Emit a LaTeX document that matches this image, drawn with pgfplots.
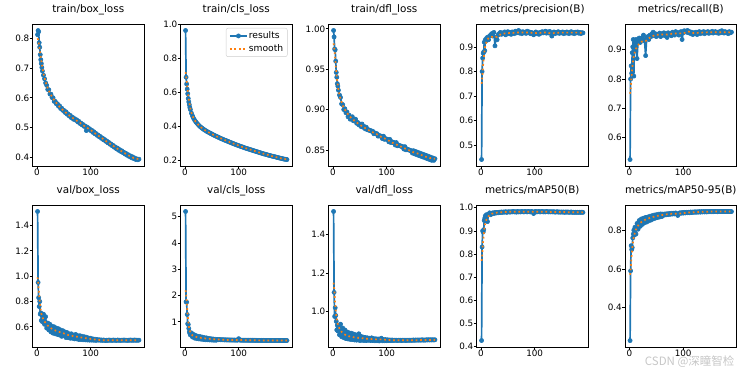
\documentclass[border=0pt]{standalone}
\usepackage{fontspec}
\setmainfont{DejaVu Sans}
\newfontfamily\cjk{Noto Sans CJK SC}
\usepackage{pgfplots}
\usepackage{pgfplotstable}
\pgfplotsset{compat=1.18}
\definecolor{tabblue}{HTML}{1F77B4}
\definecolor{taborange}{HTML}{FF7F0E}

\pgfplotstableread{
ep bl cl dl p r vb vc vd m50 m95
1 0.812 0.965 0.998 0.440 0.525 1.510 5.200 1.520 0.425 0.230
2 0.826 0.690 0.990 0.800 0.800 0.950 1.760 1.100 0.830 0.590
3 0.822 0.650 0.975 0.855 0.845 0.830 1.750 0.975 0.900 0.720
4 0.785 0.620 0.974 0.875 0.820 0.760 1.280 1.020 0.895 0.700
5 0.770 0.593 0.960 0.880 0.890 0.800 0.930 0.980 0.905 0.710
6 0.745 0.565 0.946 0.920 0.910 0.700 0.900 0.950 0.945 0.760
7 0.728 0.545 0.940 0.885 0.935 0.710 0.750 0.905 0.955 0.780
8 0.715 0.528 0.932 0.930 0.810 0.650 0.620 0.930 0.965 0.800
9 0.702 0.512 0.929 0.925 0.895 0.700 0.560 0.900 0.945 0.775
10 0.690 0.500 0.924 0.935 0.930 0.640 0.500 0.925 0.970 0.815
12 0.676 0.478 0.918 0.940 0.935 0.700 0.580 0.880 0.940 0.780
14 0.664 0.462 0.915 0.930 0.870 0.620 0.420 0.935 0.972 0.835
16 0.650 0.448 0.907 0.945 0.935 0.680 0.520 0.870 0.978 0.805
18 0.642 0.437 0.906 0.950 0.940 0.590 0.380 0.915 0.970 0.850
20 0.628 0.428 0.900 0.955 0.925 0.630 0.480 0.865 0.976 0.820
22 0.627 0.420 0.901 0.945 0.940 0.575 0.360 0.905 0.978 0.858
24 0.613 0.413 0.896 0.960 0.935 0.620 0.450 0.860 0.975 0.830
26 0.612 0.406 0.897 0.905 0.950 0.560 0.350 0.895 0.980 0.862
28 0.601 0.400 0.891 0.940 0.930 0.605 0.440 0.858 0.977 0.838
30 0.600 0.395 0.893 0.930 0.880 0.550 0.340 0.890 0.980 0.866
32 0.588 0.390 0.888 0.950 0.940 0.600 0.420 0.856 0.978 0.842
34 0.588 0.385 0.890 0.955 0.945 0.545 0.330 0.888 0.981 0.868
36 0.580 0.381 0.891 0.960 0.935 0.590 0.400 0.855 0.979 0.848
38 0.580 0.377 0.886 0.952 0.950 0.540 0.320 0.884 0.982 0.872
40 0.572 0.373 0.887 0.958 0.945 0.585 0.390 0.853 0.980 0.852
42 0.573 0.369 0.888 0.955 0.955 0.535 0.315 0.880 0.982 0.875
44 0.564 0.366 0.883 0.962 0.960 0.575 0.370 0.852 0.981 0.858
46 0.565 0.362 0.884 0.950 0.948 0.525 0.310 0.878 0.983 0.878
48 0.558 0.359 0.881 0.958 0.955 0.570 0.360 0.885 0.980 0.862
50 0.558 0.356 0.882 0.963 0.945 0.530 0.305 0.850 0.982 0.880
52 0.551 0.352 0.879 0.955 0.952 0.560 0.350 0.872 0.983 0.865
54 0.553 0.349 0.882 0.960 0.950 0.515 0.300 0.851 0.981 0.882
56 0.545 0.346 0.878 0.952 0.957 0.555 0.340 0.868 0.983 0.868
58 0.546 0.343 0.879 0.962 0.945 0.515 0.300 0.850 0.982 0.884
60 0.539 0.340 0.876 0.958 0.955 0.545 0.330 0.866 0.984 0.870
62 0.541 0.337 0.878 0.955 0.950 0.510 0.320 0.850 0.982 0.883
64 0.533 0.334 0.875 0.965 0.958 0.545 0.325 0.864 0.983 0.877
66 0.535 0.331 0.875 0.958 0.948 0.510 0.318 0.851 0.981 0.884
68 0.528 0.328 0.874 0.960 0.955 0.535 0.322 0.862 0.984 0.879
70 0.530 0.326 0.874 0.968 0.942 0.505 0.315 0.850 0.982 0.885
72 0.525 0.323 0.873 0.957 0.958 0.540 0.320 0.864 0.983 0.880
74 0.526 0.320 0.873 0.962 0.952 0.505 0.312 0.850 0.982 0.886
76 0.519 0.318 0.870 0.955 0.955 0.530 0.316 0.860 0.984 0.882
78 0.521 0.315 0.871 0.963 0.948 0.500 0.310 0.849 0.983 0.887
80 0.514 0.313 0.870 0.958 0.960 0.530 0.314 0.859 0.982 0.883
82 0.515 0.310 0.870 0.960 0.955 0.500 0.308 0.849 0.984 0.888
84 0.509 0.307 0.867 0.956 0.950 0.525 0.312 0.858 0.983 0.884
86 0.510 0.305 0.868 0.965 0.962 0.498 0.306 0.848 0.982 0.889
88 0.504 0.302 0.867 0.959 0.955 0.522 0.310 0.857 0.984 0.885
90 0.505 0.300 0.867 0.962 0.958 0.497 0.305 0.862 0.983 0.876
92 0.490 0.297 0.864 0.955 0.950 0.518 0.308 0.849 0.982 0.886
94 0.501 0.295 0.867 0.960 0.960 0.496 0.304 0.856 0.984 0.890
96 0.495 0.292 0.863 0.957 0.962 0.512 0.306 0.849 0.983 0.887
98 0.496 0.290 0.864 0.950 0.935 0.495 0.303 0.855 0.975 0.891
100 0.490 0.288 0.863 0.958 0.958 0.510 0.360 0.849 0.983 0.888
102 0.491 0.285 0.863 0.962 0.965 0.495 0.305 0.854 0.984 0.892
104 0.484 0.283 0.860 0.955 0.962 0.505 0.302 0.850 0.982 0.889
106 0.486 0.281 0.863 0.958 0.960 0.494 0.304 0.853 0.983 0.892
108 0.479 0.279 0.859 0.952 0.966 0.503 0.300 0.850 0.984 0.890
110 0.480 0.276 0.860 0.960 0.958 0.493 0.303 0.853 0.982 0.893
112 0.474 0.274 0.859 0.957 0.962 0.500 0.300 0.850 0.983 0.890
114 0.475 0.272 0.859 0.963 0.955 0.495 0.302 0.852 0.984 0.894
116 0.469 0.270 0.856 0.958 0.960 0.498 0.299 0.851 0.982 0.891
118 0.470 0.268 0.859 0.961 0.952 0.494 0.301 0.852 0.983 0.894
120 0.464 0.266 0.855 0.965 0.958 0.497 0.298 0.850 0.982 0.892
122 0.465 0.264 0.856 0.957 0.955 0.493 0.300 0.852 0.984 0.895
124 0.459 0.262 0.855 0.962 0.960 0.496 0.297 0.851 0.983 0.892
126 0.460 0.260 0.855 0.958 0.952 0.494 0.299 0.852 0.982 0.895
128 0.454 0.258 0.854 0.964 0.958 0.492 0.296 0.850 0.983 0.893
130 0.455 0.256 0.854 0.956 0.962 0.495 0.298 0.852 0.982 0.896
132 0.449 0.254 0.851 0.945 0.955 0.493 0.295 0.851 0.983 0.893
134 0.450 0.252 0.854 0.958 0.960 0.496 0.297 0.852 0.982 0.896
136 0.444 0.250 0.850 0.962 0.957 0.494 0.294 0.850 0.983 0.894
138 0.445 0.248 0.851 0.955 0.962 0.495 0.296 0.852 0.981 0.896
140 0.439 0.246 0.850 0.960 0.955 0.493 0.294 0.851 0.982 0.894
142 0.440 0.244 0.850 0.958 0.960 0.496 0.295 0.852 0.983 0.897
144 0.434 0.242 0.849 0.963 0.958 0.494 0.293 0.851 0.981 0.894
146 0.435 0.240 0.849 0.956 0.962 0.495 0.295 0.852 0.982 0.896
148 0.429 0.238 0.846 0.960 0.956 0.493 0.292 0.851 0.981 0.895
150 0.431 0.237 0.849 0.958 0.960 0.496 0.294 0.853 0.982 0.897
152 0.424 0.235 0.845 0.962 0.958 0.494 0.292 0.851 0.981 0.895
154 0.426 0.233 0.848 0.955 0.963 0.495 0.293 0.853 0.982 0.897
156 0.420 0.231 0.844 0.960 0.957 0.493 0.291 0.852 0.980 0.895
158 0.422 0.230 0.847 0.957 0.960 0.495 0.293 0.853 0.982 0.897
160 0.416 0.228 0.843 0.962 0.962 0.494 0.291 0.852 0.981 0.896
162 0.417 0.226 0.846 0.958 0.958 0.496 0.292 0.853 0.982 0.897
164 0.411 0.225 0.842 0.955 0.960 0.494 0.290 0.852 0.980 0.895
166 0.413 0.223 0.845 0.960 0.956 0.495 0.292 0.854 0.981 0.897
168 0.407 0.222 0.841 0.963 0.962 0.493 0.290 0.852 0.982 0.896
170 0.409 0.220 0.844 0.957 0.958 0.495 0.291 0.853 0.980 0.897
172 0.403 0.218 0.840 0.960 0.965 0.494 0.290 0.852 0.981 0.896
174 0.405 0.217 0.843 0.955 0.960 0.496 0.291 0.854 0.980 0.897
176 0.399 0.215 0.839 0.961 0.957 0.494 0.289 0.853 0.981 0.896
178 0.402 0.214 0.842 0.958 0.962 0.495 0.291 0.854 0.980 0.897
180 0.396 0.212 0.838 0.962 0.958 0.494 0.289 0.853 0.981 0.896
182 0.398 0.211 0.841 0.957 0.960 0.496 0.290 0.854 0.980 0.897
184 0.393 0.209 0.837 0.960 0.955 0.494 0.289 0.853 0.981 0.896
186 0.395 0.208 0.840 0.955 0.962 0.495 0.290 0.854 0.980 0.897
188 0.392 0.207 0.837 0.959 0.958 0.494 0.289 0.853 0.981 0.896
190 0.394 0.206 0.839 0.958 0.960 0.495 0.290 0.854 0.980 0.896
}\restab

\pgfplotstableread{
ep bl cl dl p r vb vc vd m50 m95
1 0.800 0.720 0.982 0.750 0.750 0.990 2.20 1.150 0.770 0.570
2 0.795 0.700 0.978 0.770 0.765 0.955 2.05 1.125 0.790 0.595
3 0.786 0.672 0.971 0.800 0.790 0.905 1.80 1.085 0.822 0.635
4 0.775 0.642 0.963 0.830 0.815 0.850 1.52 1.045 0.855 0.672
5 0.762 0.612 0.955 0.855 0.838 0.800 1.25 1.010 0.882 0.705
6 0.749 0.585 0.947 0.875 0.855 0.762 1.02 0.982 0.905 0.730
7 0.736 0.561 0.940 0.893 0.868 0.730 0.85 0.960 0.922 0.750
8 0.724 0.541 0.934 0.905 0.878 0.706 0.73 0.945 0.934 0.765
10 0.702 0.507 0.925 0.920 0.893 0.675 0.60 0.925 0.948 0.788
12 0.682 0.481 0.918 0.930 0.903 0.657 0.53 0.912 0.956 0.803
14 0.666 0.463 0.913 0.937 0.910 0.642 0.48 0.902 0.963 0.815
17 0.648 0.442 0.907 0.941 0.918 0.625 0.45 0.892 0.970 0.828
20 0.632 0.428 0.902 0.942 0.925 0.610 0.43 0.885 0.974 0.838
25 0.613 0.410 0.897 0.940 0.930 0.592 0.41 0.876 0.977 0.847
30 0.597 0.395 0.892 0.942 0.930 0.578 0.39 0.872 0.979 0.855
35 0.585 0.383 0.889 0.950 0.937 0.570 0.375 0.870 0.980 0.860
40 0.574 0.373 0.886 0.955 0.945 0.562 0.365 0.866 0.981 0.865
50 0.556 0.356 0.881 0.957 0.951 0.548 0.343 0.864 0.982 0.873
60 0.541 0.340 0.877 0.958 0.952 0.533 0.328 0.860 0.983 0.878
70 0.528 0.326 0.873 0.960 0.952 0.525 0.318 0.858 0.983 0.882
80 0.516 0.313 0.870 0.960 0.955 0.518 0.312 0.856 0.983 0.885
90 0.503 0.300 0.866 0.959 0.956 0.511 0.307 0.856 0.983 0.885
100 0.492 0.288 0.863 0.957 0.956 0.505 0.310 0.854 0.982 0.888
110 0.478 0.276 0.859 0.958 0.962 0.499 0.302 0.852 0.983 0.891
120 0.466 0.266 0.856 0.960 0.957 0.495 0.299 0.851 0.983 0.893
130 0.453 0.256 0.853 0.956 0.958 0.494 0.297 0.851 0.982 0.894
140 0.441 0.246 0.850 0.958 0.959 0.494 0.295 0.851 0.982 0.895
150 0.429 0.237 0.847 0.959 0.960 0.494 0.293 0.852 0.982 0.896
160 0.418 0.228 0.845 0.959 0.960 0.494 0.292 0.852 0.981 0.896
170 0.407 0.220 0.842 0.959 0.960 0.494 0.291 0.853 0.981 0.896
180 0.398 0.212 0.840 0.959 0.960 0.494 0.290 0.853 0.981 0.896
190 0.394 0.207 0.839 0.958 0.959 0.494 0.290 0.853 0.980 0.896
}\smotab

\pgfplotsset{
  yolo/.style={
    scale only axis, width=111.5pt, height=142pt,
    xmin=-8.45, xmax=199.45, xtick={0,100},
    scaled ticks=false, clip marker paths=true,
    tick align=outside, tick pos=left, major tick length=3pt,
    every tick/.style={black, line width=0.7pt},
    axis line style={line width=0.7pt},
    tick label style={font=\fontsize{8.8}{10}\selectfont, inner sep=0pt},
    /pgf/number format/assume math mode=true,
    yticklabel style={/pgf/number format/.cd, fixed, fixed zerofill, precision=1},
    xticklabel style={/pgf/number format/.cd, fixed, precision=0},
    title style={font=\fontsize{10.4}{12}\selectfont, at={(0.5,1)}, anchor=base, yshift=5.5pt},
  },
  res/.style={tabblue, line width=1.7pt, line join=round, mark=*, mark size=2.1pt, mark options={line width=0.6pt, fill=tabblue, solid}},
  smo/.style={taborange, line width=1.7pt, dash pattern=on 1.7pt off 2.8pt, no marks},
}

\begin{document}
\begin{tikzpicture}
\useasboundingbox (0,0) rectangle (747pt,374pt);

% Row 1
\begin{axis}[yolo, at={(32.5pt,208pt)}, title={train/box\_loss},
  ymin=0.371, ymax=0.848, ytick={0.4,0.5,0.6,0.7,0.8}]
\addplot[res] table[x=ep,y=bl]{\restab};
\addplot[smo] table[x=ep,y=bl]{\smotab};
\end{axis}

\begin{axis}[yolo, at={(180.5pt,208pt)}, title={train/cls\_loss},
  ymin=0.168, ymax=1.003, ytick={0.2,0.4,0.6,0.8,1.0},
  legend style={at={(1,1)}, anchor=north east, xshift=-4.5pt, yshift=-4pt,
    draw=black!20, rounded corners=2pt, fill=white,
    font=\fontsize{9.2}{10}\selectfont, inner xsep=3pt, inner ysep=2.5pt, row sep=2.5pt,
    nodes={inner sep=1pt}},
  legend cell align=left]
\addplot[res] table[x=ep,y=cl]{\restab};
\addlegendentry{results}
\addplot[smo] table[x=ep,y=cl]{\smotab};
\addlegendentry{smooth}
\end{axis}

\begin{axis}[yolo, at={(328.5pt,208pt)}, title={train/dfl\_loss},
  ymin=0.830, ymax=1.006, ytick={0.85,0.90,0.95,1.00},
  yticklabel style={/pgf/number format/.cd, fixed, fixed zerofill, precision=2}]
\addplot[res] table[x=ep,y=dl]{\restab};
\addplot[smo] table[x=ep,y=dl]{\smotab};
\end{axis}

\begin{axis}[yolo, at={(476.5pt,208pt)}, title={metrics/precision(B)},
  ymin=0.4136, ymax=0.9944, ytick={0.5,0.6,0.7,0.8,0.9}]
\addplot[res] table[x=ep,y=p]{\restab};
\addplot[smo] table[x=ep,y=p]{\smotab};
\end{axis}

\begin{axis}[yolo, at={(625pt,208pt)}, title={metrics/recall(B)},
  ymin=0.503, ymax=0.988, ytick={0.6,0.7,0.8,0.9}]
\addplot[res] table[x=ep,y=r]{\restab};
\addplot[smo] table[x=ep,y=r]{\smotab};
\end{axis}

% Row 2
\begin{axis}[yolo, at={(32.5pt,27pt)}, title={val/box\_loss},
  ymin=0.441, ymax=1.561, ytick={0.6,0.8,1.0,1.2,1.4}]
\addplot[res] table[x=ep,y=vb]{\restab};
\addplot[smo] table[x=ep,y=vb]{\smotab};
\end{axis}

\begin{axis}[yolo, at={(180.5pt,27pt)}, title={val/cls\_loss},
  ymin=0.043, ymax=5.446, ytick={1,2,3,4,5},
  yticklabel style={/pgf/number format/.cd, fixed, precision=0}]
\addplot[res] table[x=ep,y=vc]{\restab};
\addplot[smo] table[x=ep,y=vc]{\smotab};
\end{axis}

\begin{axis}[yolo, at={(328.5pt,27pt)}, title={val/dfl\_loss},
  ymin=0.8165, ymax=1.5535, ytick={1.0,1.2,1.4}]
\addplot[res] table[x=ep,y=vd]{\restab};
\addplot[smo] table[x=ep,y=vd]{\smotab};
\end{axis}

\begin{axis}[yolo, at={(476.5pt,27pt)}, title={metrics/mAP50(B)},
  ymin=0.397, ymax=1.012, ytick={0.4,0.5,0.6,0.7,0.8,0.9,1.0}]
\addplot[res] table[x=ep,y=m50]{\restab};
\addplot[smo] table[x=ep,y=m50]{\smotab};
\end{axis}

\begin{axis}[yolo, at={(625pt,27pt)}, title={metrics/mAP50-95(B)},
  ymin=0.197, ymax=0.930, ytick={0.4,0.6,0.8}]
\addplot[res] table[x=ep,y=m95]{\restab};
\addplot[smo] table[x=ep,y=m95]{\smotab};
\end{axis}

\node[anchor=east, text=black!22, font=\cjk\fontsize{11.5}{12}\selectfont] at (738pt,12pt) {CSDN @深瞳智检};
\end{tikzpicture}
\end{document}
